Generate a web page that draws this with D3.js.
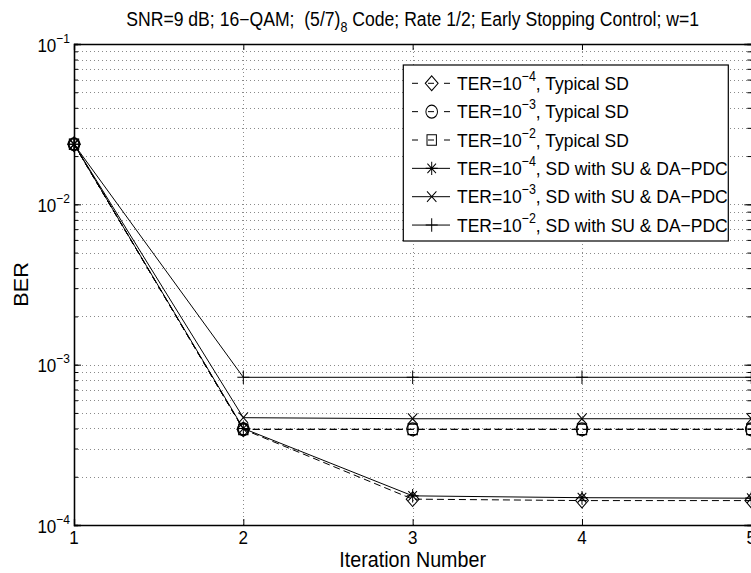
<!DOCTYPE html>
<html><head><meta charset="utf-8">
<script src="https://cdn.jsdelivr.net/npm/d3@7"></script>
<style>
body{margin:0;background:#fff}
svg{display:block;background:#fff}
text{font-family:"Liberation Sans",Arial,Helvetica,sans-serif;fill:#000;white-space:pre}
</style>
</head><body><svg id="c" width="751" height="573"></svg>
<script>
// ---- data ----
const iterations = [1, 2, 3, 4, 5];
const typicalTer4 = [0.0237, 3.95e-4, 1.45e-4, 1.42e-4, 1.42e-4];
const typicalTer3 = [0.0237, 3.95e-4, 3.95e-4, 3.95e-4, 3.95e-4];
const typicalTer2 = [0.0237, 3.95e-4, 3.95e-4, 3.95e-4, 3.95e-4];
const suTer4 = [0.0237, 4.0e-4, 1.52e-4, 1.48e-4, 1.47e-4];
const suTer3 = [0.0237, 4.67e-4, 4.6e-4, 4.6e-4, 4.6e-4];
const suTer2 = [0.0237, 8.34e-4, 8.34e-4, 8.34e-4, 8.34e-4];
const xTickValues = [1, 2, 3, 4, 5];
const yDecadeExponents = [-1, -2, -3, -4];
const terExponents = ["\u22124", "\u22123", "\u22122", "\u22124", "\u22123", "\u22122"];
const legendSuffixes = [", Typical SD", ", Typical SD", ", Typical SD",
  ", SD with SU & DA\u2212PDC", ", SD with SU & DA\u2212PDC", ", SD with SU & DA\u2212PDC"];
const markerTypes = ["diamond", "circle", "square", "star", "x", "plus"];
const dashedFlags = [true, true, true, false, false, false];
const seriesValues = [typicalTer4, typicalTer3, typicalTer2, suTer4, suTer3, suTer2];
const titleParts = ["SNR=9 dB; 16\u2212QAM;  (5/7)", "8", " Code; Rate 1/2; Early Stopping Control; w=1"];
const xLabel = "Iteration Number";
const yLabel = "BER";

// ---- layout ----
const W = 751, H = 573;
const L = 74, R = 751.3, T = 44, B = 525;
const SY = 1.1; // vertical stretch of the reference
const svg = d3.select("#c");
svg.append("rect").attr("width", W).attr("height", H).attr("fill", "#fff");

const x = d3.scaleLinear().domain([1, 5]).range([L, R]);
const y = d3.scaleLog().domain([1e-4, 1e-1]).range([B, T]);

// grid
const minorVals = [];
for (let e = -4; e < -1; e++) for (let m = 1; m <= 9; m++) minorVals.push(m * Math.pow(10, e));
minorVals.push(1e-1);
const grid = svg.append("g").attr("stroke", "#8a8a8a").attr("stroke-width", 1)
  .attr("stroke-dasharray", "1,3").attr("shape-rendering", "crispEdges");
grid.selectAll(".gy").data(minorVals.filter(v => v > 1.0001e-4 && v < 0.0999)).join("line")
  .attr("x1", L).attr("x2", R).attr("y1", d => Math.round(y(d)) + 0.5).attr("y2", d => Math.round(y(d)) + 0.5);
grid.selectAll(".gx").data(xTickValues.slice(1, -1)).join("line")
  .attr("y1", T).attr("y2", B).attr("x1", d => Math.round(x(d)) + 0.5).attr("x2", d => Math.round(x(d)) + 0.5);

// axes via d3 axis (ticks inward)
const axB = d3.axisBottom(x).tickValues(xTickValues).tickSize(-6).tickFormat("");
const axT = d3.axisTop(x).tickValues(xTickValues).tickSize(-6).tickFormat("");
const axL = d3.axisLeft(y).tickValues(minorVals).tickSize(-4).tickFormat("");
const axR = d3.axisRight(y).tickValues(minorVals).tickSize(-4).tickFormat("");
const axLM = d3.axisLeft(y).tickValues(yDecadeExponents.map(e => Math.pow(10, e))).tickSize(-7).tickFormat("");
const axRM = d3.axisRight(y).tickValues(yDecadeExponents.map(e => Math.pow(10, e))).tickSize(-7).tickFormat("");
[[axB, `translate(0,${B})`], [axT, `translate(0,${T})`], [axL, `translate(${L},0)`],
 [axR, `translate(${R},0)`], [axLM, `translate(${L},0)`], [axRM, `translate(${R},0)`]].forEach(([a, t]) => {
  const g = svg.append("g").attr("transform", t).call(a);
  g.selectAll("path,line").attr("stroke", "#000").attr("stroke-width", 1);
  g.selectAll(".domain").attr("stroke-width", 1.3);
});

// tick labels
function stretchedText(px, py, anchor, size) {
  return svg.append("g").attr("transform", `translate(${px},${py}) scale(1,${SY})`)
    .append("text").attr("text-anchor", anchor).attr("font-size", size);
}
xTickValues.forEach(v => {
  stretchedText(x(v), 544, "middle", 17).text(v);
});
yDecadeExponents.forEach(e => {
  const t = stretchedText(70, y(Math.pow(10, e)) + 7.5, "end", 17);
  t.append("tspan").text("10");
  t.append("tspan").attr("font-size", 12).attr("dy", -8).text("\u2212" + Math.abs(e));
});

// labels and title
stretchedText((L + R) / 2, 567, "middle", 19.7).text(xLabel);
svg.append("g").attr("transform", `translate(27.5,${(T + B) / 2}) rotate(-90) scale(${SY},1)`)
  .append("text").attr("text-anchor", "middle").attr("font-size", 19.7).text(yLabel);
const title = stretchedText((L + R) / 2, 26, "middle", 17.6);
title.append("tspan").text(titleParts[0]);
title.append("tspan").attr("font-size", 12.5).attr("dy", 5).text(titleParts[1]);
title.append("tspan").attr("dy", -5).text(titleParts[2]);

// markers
function markerPath(type) {
  const p = d3.path();
  if (type === "diamond") { p.moveTo(0, -6.6); p.lineTo(6.4, 0); p.lineTo(0, 6.6); p.lineTo(-6.4, 0); p.closePath(); }
  else if (type === "circle") { p.arc(0, 0, 5.8, 0, 2 * Math.PI); }
  else if (type === "square") { p.rect(-4.7, -4.7, 9.4, 9.4); }
  else if (type === "star") {
    p.moveTo(-6, 0); p.lineTo(6, 0); p.moveTo(0, -6); p.lineTo(0, 6);
    p.moveTo(-4.3, -4.3); p.lineTo(4.3, 4.3); p.moveTo(-4.3, 4.3); p.lineTo(4.3, -4.3);
  }
  else if (type === "x") { p.moveTo(-4.7, -4.7); p.lineTo(4.7, 4.7); p.moveTo(-4.7, 4.7); p.lineTo(4.7, -4.7); }
  else if (type === "plus") { p.moveTo(-6, 0); p.lineTo(6, 0); p.moveTo(0, -6); p.lineTo(0, 6); }
  return p.toString();
}

// series
const line = d3.line().x((d, i) => x(iterations[i])).y(d => y(d));
const plot = svg.append("g");
seriesValues.forEach((vals, k) => {
  plot.append("path").attr("d", line(vals)).attr("fill", "none").attr("stroke", "#000")
    .attr("stroke-width", 1).attr("stroke-dasharray", dashedFlags[k] ? "7,4" : null);
  plot.selectAll(null).data(vals).join("path")
    .attr("transform", (d, i) => `translate(${x(iterations[i])},${y(d)}) scale(1,1.12)`)
    .attr("d", markerPath(markerTypes[k])).attr("fill", "none").attr("stroke", "#000")
    .attr("stroke-width", 1);
});

// legend
const lgX = 403.3, lgY = 65, lgW = 325, lgH = 176, rowH = 28.35, row0 = 83.3;
svg.append("rect").attr("x", lgX).attr("y", lgY).attr("width", lgW).attr("height", lgH)
  .attr("fill", "#fff").attr("stroke", "#000").attr("stroke-width", 1.2);
markerTypes.forEach((m, k) => {
  const cy = row0 + k * rowH;
  svg.append("line").attr("x1", 412).attr("x2", 450).attr("y1", cy).attr("y2", cy)
    .attr("stroke", "#000").attr("stroke-width", 1)
    .attr("stroke-dasharray", dashedFlags[k] ? "6,10,6,10,6" : null);
  svg.append("path").attr("transform", `translate(431.7,${cy}) scale(1,1.12)`)
    .attr("d", markerPath(m)).attr("fill", "none").attr("stroke", "#000").attr("stroke-width", 1);
  const t = stretchedText(457, cy + 6.5, "start", 17.5);
  t.append("tspan").text("TER=10");
  t.append("tspan").attr("font-size", 12.5).attr("dy", -8).text(terExponents[k]);
  t.append("tspan").attr("dy", 8).text(legendSuffixes[k]);
});
</script>
</body></html>
